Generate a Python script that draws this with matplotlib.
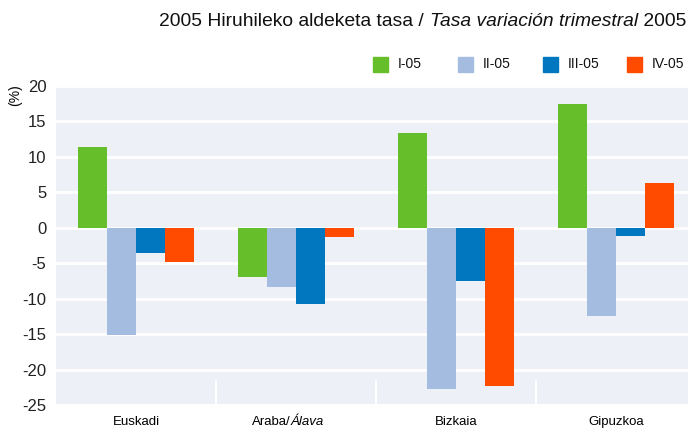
import numpy as np
import matplotlib
matplotlib.use("Agg")
import matplotlib.pyplot as plt
from matplotlib.patches import Rectangle

plt.rcParams["font.family"] = ["Liberation Sans", "DejaVu Sans"]

regions = ["Euskadi", "Araba/Álava", "Bizkaia", "Gipuzkoa"]
quarters = ["I-05", "II-05", "III-05", "IV-05"]
q1 = [11.4, -6.9, 13.3, 17.5]
q2 = [-15.1, -8.3, -22.8, -12.5]
q3 = [-3.5, -10.7, -7.5, -1.1]
q4 = [-4.8, -1.3, -22.3, 6.3]
yticks = [-25, -20, -15, -10, -5, 0, 5, 10, 15, 20]

colors = ["#66BF2A", "#A4BCE0", "#0077BF", "#FF4B00"]

fig = plt.figure(figsize=(6.88, 4.32), dpi=100)
ax = fig.add_axes([0.0814, 0.0625, 0.9186, 0.7385])
ax.set_facecolor("#EDF0F7")

x = np.arange(len(regions))
w = 0.18
for i, (vals, c) in enumerate(zip([q1, q2, q3, q4], colors)):
    ax.bar(x + (i - 1.5) * w, vals, width=w, color=c, zorder=3)

for y in yticks:
    ax.axhline(y, color="white", lw=2, zorder=1)
for sep in [0.5, 1.5, 2.5]:
    ax.plot([sep, sep], [-25, -21.6], color="white", lw=1.5, zorder=1)

ax.set_xlim(-0.5, 3.45)
ax.set_ylim(-25, 20)
ax.set_yticks(yticks)
ax.set_yticklabels([str(v) for v in yticks])
ax.set_xticks(x)
ax.set_xticklabels([])
for xi, lab in zip(x, regions):
    if "/" in lab:
        a, b = lab.split("/")
        ax.annotate(a + "/", xy=(xi, 0), xycoords=("data", "axes fraction"),
                    xytext=(-4, -8), textcoords="offset points",
                    ha="right", va="top", fontsize=9.5)
        ax.annotate(b, xy=(xi, 0), xycoords=("data", "axes fraction"),
                    xytext=(-4, -8), textcoords="offset points",
                    ha="left", va="top", fontsize=9.5, style="italic")
    else:
        ax.annotate(lab, xy=(xi, 0), xycoords=("data", "axes fraction"),
                    xytext=(0, -8), textcoords="offset points",
                    ha="center", va="top", fontsize=9.5)
ax.tick_params(axis="both", length=0, labelsize=12, colors="#222222")
ax.tick_params(axis="y", pad=7)
for s in ax.spines.values():
    s.set_visible(False)

fig.text(15 / 688, 1 - 95 / 432, "(%)", rotation=90, fontsize=10,
         va="center", ha="center")

# title with italic middle part, built right to left
fig.canvas.draw()
r = fig.canvas.get_renderer()
pieces = [("2005 Hiruhileko aldeketa tasa / ", "normal"),
          ("Tasa variación trimestral", "italic"),
          (" 2005", "normal")]
xr = 686
for txt, st in reversed(pieces):
    t = fig.text(xr / 688, 1 - 22 / 432, txt, fontsize=13.9, style=st,
                 ha="right", va="center", color="#111111")
    bb = t.get_window_extent(renderer=r)
    xr = bb.x0

# legend row
for px, lab, c in zip([373, 458, 543, 627], quarters, colors):
    fig.patches.append(Rectangle((px / 688, 1 - 72 / 432), 15 / 688, 15 / 432,
                                 transform=fig.transFigure, color=c))
    fig.text((px + 25) / 688, 1 - 64.5 / 432, lab, fontsize=10,
             va="center", ha="left", color="#111111")

fig.savefig("out.png", dpi=100)
plt.close()
